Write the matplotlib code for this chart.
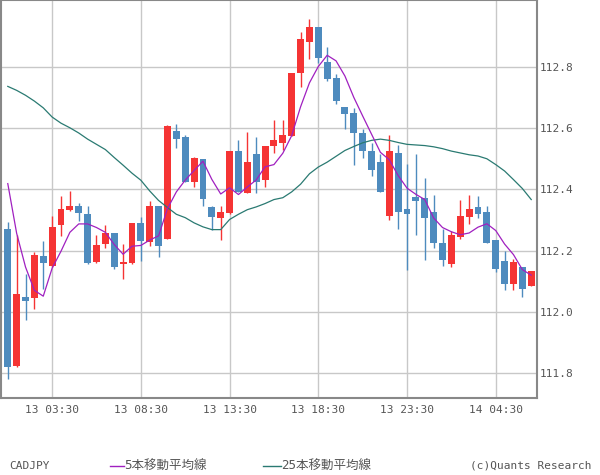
import matplotlib
matplotlib.use("Agg")
import matplotlib.pyplot as plt
from matplotlib.lines import Line2D
import numpy as np
import pandas as pd

opens = [112.272, 111.825, 112.049, 112.046, 112.182, 112.150, 112.283, 112.332, 112.345, 112.319,
         112.163, 112.221, 112.257, 112.156, 112.159, 112.290, 112.227, 112.345, 112.237, 112.592,
         112.570, 112.423, 112.498, 112.342, 112.306, 112.322, 112.524, 112.387, 112.514, 112.430,
         112.540, 112.550, 112.573, 112.778, 112.882, 112.928, 112.814, 112.762, 112.670, 112.648,
         112.583, 112.524, 112.491, 112.312, 112.518, 112.335, 112.374, 112.371, 112.328, 112.224,
         112.156, 112.244, 112.309, 112.342, 112.328, 112.234, 112.166, 112.091, 112.146, 112.084]
highs = [112.293, 112.250, 112.123, 112.195, 112.232, 112.312, 112.378, 112.394, 112.355, 112.345,
         112.250, 112.283, 112.257, 112.221, 112.290, 112.309, 112.361, 112.345, 112.609, 112.612,
         112.579, 112.505, 112.498, 112.345, 112.345, 112.524, 112.560, 112.586, 112.570, 112.540,
         112.625, 112.628, 112.780, 112.912, 112.957, 112.928, 112.863, 112.775, 112.670, 112.664,
         112.596, 112.553, 112.514, 112.576, 112.544, 112.482, 112.514, 112.436, 112.381, 112.270,
         112.263, 112.367, 112.381, 112.378, 112.345, 112.234, 112.198, 112.172, 112.146, 112.133]
lows = [111.782, 111.820, 111.974, 112.009, 112.075, 112.148, 112.247, 112.329, 112.296, 112.156,
        112.160, 112.208, 112.140, 112.107, 112.156, 112.166, 112.215, 112.179, 112.237, 112.534,
        112.423, 112.407, 112.345, 112.267, 112.234, 112.320, 112.391, 112.387, 112.387, 112.407,
        112.518, 112.527, 112.573, 112.733, 112.824, 112.811, 112.755, 112.680, 112.596, 112.479,
        112.501, 112.443, 112.391, 112.299, 112.270, 112.137, 112.250, 112.169, 112.208, 112.150,
        112.146, 112.237, 112.286, 112.306, 112.224, 112.130, 112.071, 112.071, 112.049, 112.084]
closes = [111.821, 112.058, 112.037, 112.185, 112.159, 112.277, 112.335, 112.345, 112.322, 112.159,
          112.218, 112.257, 112.146, 112.163, 112.290, 112.231, 112.345, 112.215, 112.606, 112.563,
          112.423, 112.501, 112.368, 112.309, 112.325, 112.524, 112.391, 112.491, 112.423, 112.540,
          112.560, 112.576, 112.778, 112.892, 112.931, 112.827, 112.759, 112.687, 112.645, 112.583,
          112.524, 112.462, 112.391, 112.524, 112.325, 112.319, 112.361, 112.306, 112.224, 112.169,
          112.250, 112.312, 112.335, 112.319, 112.224, 112.140, 112.091, 112.163, 112.075, 112.133]

# 5-bar MA: first four values (they depend on earlier bars)
ma5_head = [112.419, 112.257, 112.147, 112.071]
# 25-bar MA
ma25 = [112.736, 112.723, 112.707, 112.688, 112.666, 112.636, 112.616, 112.601, 112.584, 112.564,
        112.547, 112.530, 112.504, 112.479, 112.453, 112.430, 112.395, 112.364, 112.341, 112.319,
        112.308, 112.291, 112.278, 112.269, 112.269, 112.302, 112.319, 112.334, 112.343, 112.354,
        112.367, 112.373, 112.392, 112.417, 112.451, 112.473, 112.489, 112.508, 112.527, 112.540,
        112.552, 112.560, 112.564, 112.560, 112.553, 112.547, 112.545, 112.543, 112.539, 112.533,
        112.525, 112.519, 112.513, 112.509, 112.500, 112.481, 112.460, 112.432, 112.403, 112.367]

tick_idx = [5, 15, 25, 35, 45, 55]
tick_labels = ["13 03:30", "13 08:30", "13 13:30", "13 18:30", "13 23:30", "14 04:30"]
y_ticks = [111.8, 112.0, 112.2, 112.4, 112.6, 112.8]

symbol = "CADJPY"
legend_ma5 = "5本移動平均線"
legend_ma25 = "25本移動平均線"
credit = "(c)Quants Research"

RED = "#F53434"
BLUE = "#4E8BBE"
PURPLE = "#A020C0"
TEAL = "#2A7A72"
GRID = "#C8C8C8"
FRAME = "#888888"
TXT = "#555555"
FONT = ["DejaVu Sans Mono", "Noto Sans CJK JP"]

plt.rcParams["font.family"] = FONT

ma5 = list(ma5_head) + list(pd.Series(closes).rolling(5).mean().dropna().values)

W, H = 600, 475
fig = plt.figure(figsize=(W / 100, H / 100), dpi=100)
ax = fig.add_axes([0.5 / W, 1 - 398 / H, 536.5 / W, 397.5 / H])

x = np.arange(len(closes))
o = np.array(opens); c = np.array(closes); h = np.array(highs); l = np.array(lows)
up = c >= o
colors = np.where(up, RED, BLUE)
bottoms = np.minimum(o, c)
heights = np.maximum(np.abs(c - o), 0.006)

ax.vlines(x, l, h, colors=colors, linewidth=1.0, zorder=3)
ax.bar(x, heights, bottom=bottoms, width=0.78, color=colors, linewidth=0, zorder=4)

ax.plot(x, ma25, color=TEAL, linewidth=0.9, zorder=5)
ax.plot(x, ma5, color=PURPLE, linewidth=0.9, zorder=6)

ax.set_xlim(-0.82, 59.65)
ax.set_ylim(111.720, 113.016)

ax.set_xticks(tick_idx)
ax.set_xticklabels(tick_labels)
ax.set_yticks(y_ticks)
ax.set_yticklabels([f"{v:.1f}" for v in y_ticks])
ax.yaxis.tick_right()
ax.tick_params(axis="both", length=0, colors=TXT, labelsize=8)
ax.tick_params(axis="y", pad=2)
ax.tick_params(axis="x", pad=5)
ax.grid(True, color=GRID, linewidth=1.0, zorder=0)
ax.set_axisbelow(True)
for s in ax.spines.values():
    s.set_color(FRAME)
    s.set_linewidth(1.5)

# bottom legend row
ly = 1 - 466 / H
fig.text(9 / W, ly, symbol, color=TXT, fontsize=8, va="center", ha="left")
fig.add_artist(Line2D([110 / W, 124 / W], [ly, ly], color=PURPLE, linewidth=1.0, transform=fig.transFigure))
fig.text(124 / W, ly, legend_ma5, color=TXT, fontsize=9, va="center", ha="left")
fig.add_artist(Line2D([263 / W, 281 / W], [ly, ly], color=TEAL, linewidth=1.0, transform=fig.transFigure))
fig.text(281 / W, ly, legend_ma25, color=TXT, fontsize=9, va="center", ha="left")
fig.text(591 / W, ly, credit, color=TXT, fontsize=8, va="center", ha="right")

fig.savefig("out.png", dpi=100, facecolor="white")
